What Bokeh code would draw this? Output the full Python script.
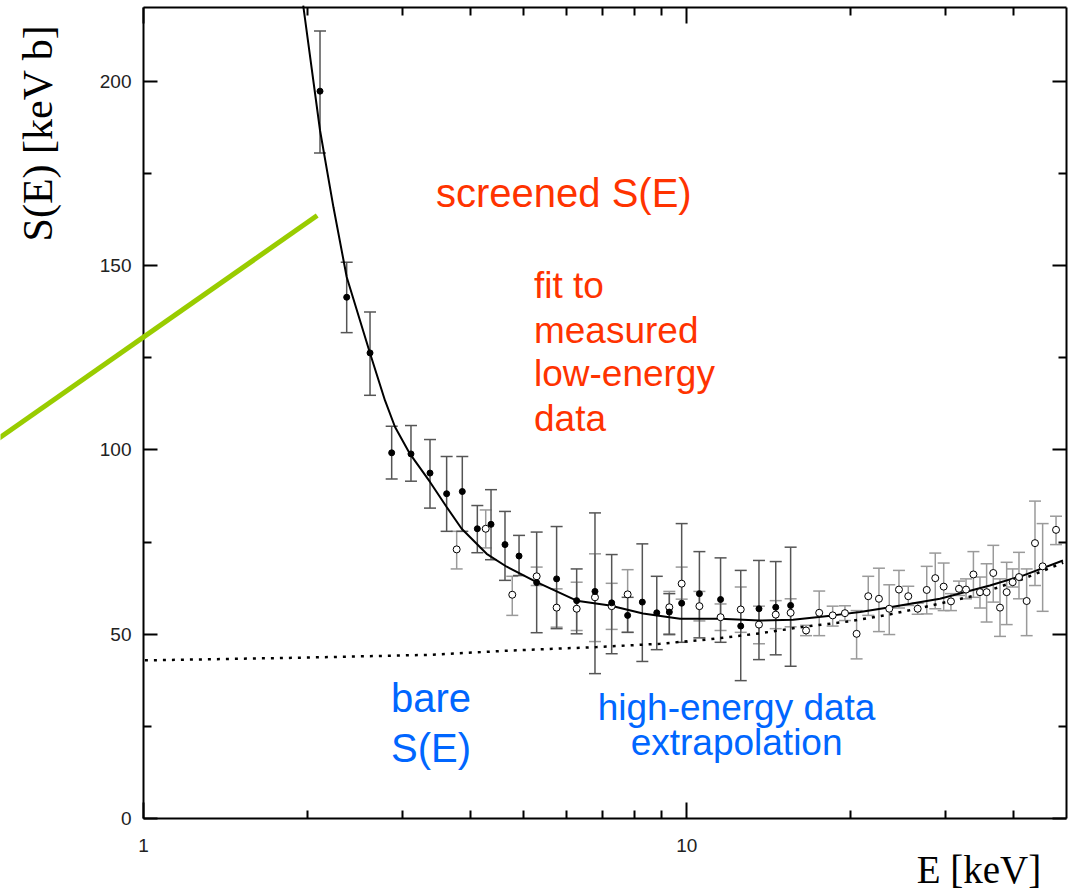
from math import pi
from bokeh.plotting import figure
from bokeh.models import (FixedTicker, LinearAxis, LogAxis, Whisker, TeeHead,
                          ColumnDataSource, Label, Arrow, PrintfTickFormatter,
                          CustomJSTickFormatter, Range1d)
from bokeh.embed import file_html
from bokeh.resources import INLINE
from bokeh.core.properties import value

# ---------------- data ----------------
# screened S(E) fit (solid line)
fit_E = [1.968, 2.113, 2.237, 2.366, 2.612, 2.783, 2.904, 3.094, 3.368, 3.614,
         3.852, 4.282, 4.662, 5.293, 6.271, 7.221, 8.306, 9.716, 11.51, 13.63,
         15.69, 18.58, 20.84, 23.66, 29.24, 36.14, 41.57, 49.26]
fit_S = [220.5, 186.7, 165.8, 146.9, 126.2, 113.4, 106.2, 98.9, 91.3, 84.5,
         78.6, 71.8, 68.3, 64.1, 59.1, 57.8, 55.6, 54.2, 54.2, 53.7,
         53.9, 55.1, 56.0, 57.3, 59.6, 63.2, 65.9, 70.0]

# bare S(E) (dotted line)
bare_E = [1.006, 1.914, 3.37, 4.79, 6.83, 8.93, 11.0, 13.6, 16.2, 20.0,
          23.7, 27.3, 33.7, 41.6, 49.3]
bare_S = [42.9, 43.6, 44.4, 45.6, 46.5, 47.4, 48.6, 50.2, 51.9, 53.5,
          55.4, 57.3, 60.4, 65.0, 69.4]

# low-energy data (filled circles)
lo_E = [2.113, 2.366, 2.612, 2.863, 3.107, 3.368, 3.614, 3.862, 4.116, 4.362,
        4.628, 4.912, 5.293, 5.760, 6.271, 6.777, 7.274, 7.783, 8.283, 8.806,
        9.287, 9.786, 10.55, 11.54, 12.57, 13.58, 14.58, 15.53]
lo_S = [197.3, 141.4, 126.3, 99.2, 98.9, 93.7, 88.1, 88.7, 78.6, 79.8,
        74.3, 71.2, 64.0, 65.0, 59.1, 61.6, 58.5, 55.1, 58.7, 55.8,
        56.0, 58.4, 61.0, 59.4, 52.2, 56.9, 57.3, 57.8]
lo_min = [180.5, 131.8, 114.8, 92.1, 91.5, 84.2, 77.9, 77.9, 72.1, 70.2,
          64.6, 65.9, 50.4, 51.5, 50.1, 39.3, 44.7, 50.5, 42.6, 45.8,
          50.0, 47.8, 49.0, 47.8, 37.4, 43.1, 44.4, 41.3]
lo_max = [213.6, 150.9, 137.4, 106.4, 106.6, 102.8, 98.2, 98.2, 84.9, 89.2,
          83.3, 76.8, 77.7, 79.2, 67.7, 82.9, 71.6, 60.0, 74.5, 65.7,
          61.0, 80.0, 72.4, 70.7, 67.3, 70.0, 69.7, 73.6]

# high-energy data (open circles)
hi_E = [3.771, 4.265, 4.773, 5.293, 5.760, 6.271, 6.777, 7.274, 7.783, 9.287,
        9.786, 10.55, 11.54, 12.57, 13.58, 14.58, 15.53, 16.58, 17.53, 18.56,
        19.55, 20.54, 21.58, 22.58, 23.59, 24.58, 25.57, 26.61, 27.65, 28.67,
        29.71, 30.64, 31.70, 32.66, 33.70, 34.65, 35.64, 36.66, 37.72, 38.80,
        39.80, 40.88, 42.23, 43.75, 45.19, 47.83]
hi_S = [73.0, 78.6, 60.7, 65.7, 57.2, 56.9, 60.0, 57.6, 60.8, 57.3,
        63.7, 57.6, 54.6, 56.7, 52.6, 55.3, 55.8, 51.0, 55.8, 55.1,
        55.7, 50.1, 60.3, 59.6, 56.9, 62.1, 60.3, 56.9, 62.0, 65.2,
        62.9, 58.9, 62.3, 62.1, 66.2, 61.4, 61.4, 66.6, 57.2, 61.4,
        64.1, 65.5, 59.0, 74.7, 68.4, 78.3]
hi_min = [67.7, 73.4, 55.1, 63.2, 51.9, 51.0, 48.0, 51.3, 50.5, 49.8,
          59.5, 53.6, 51.0, 50.5, 47.4, 51.5, 52.0, 49.6, 49.6, 52.2,
          53.7, 43.3, 55.1, 50.7, 49.9, 57.1, 57.8, 55.4, 55.5, 56.9,
          56.4, 56.4, 60.5, 59.6, 60.0, 57.1, 53.3, 58.7, 49.4, 52.6,
          62.8, 59.6, 49.6, 63.2, 56.2, 74.3]
hi_max = [77.9, 83.7, 65.7, 68.2, 62.3, 64.1, 71.8, 63.8, 67.5, 61.6,
          68.2, 61.6, 58.2, 62.8, 57.6, 59.1, 59.6, 52.4, 61.7, 57.6,
          57.7, 56.4, 65.7, 67.9, 63.4, 67.3, 63.0, 58.4, 68.4, 72.0,
          69.3, 61.0, 64.4, 65.0, 72.4, 65.5, 69.1, 74.1, 65.0, 69.5,
          67.7, 72.2, 67.7, 86.1, 80.0, 82.0]

x_bounds = (1, 50)
y_bounds = (0, 220)
x_major = [1, 10]
x_minor = [2, 3, 4, 5, 6, 7, 8, 9, 20, 30, 40]
y_major = [0, 50, 100, 150, 200]
y_minor = [25, 75, 125, 175]

# ---------------- geometry ----------------
W, H = 1069, 892
LEFT_PX, BOTTOM_PX = 143, 818          # pixel of x=1 and of y=0
DEC_PX = 923 / 1.69897                 # pixels per decade
UNIT_PX = 811 / 220.0                  # pixels per unit of S
x_rng = Range1d(10 ** (-LEFT_PX / DEC_PX), 10 ** ((W - LEFT_PX) / DEC_PX))
y_rng = Range1d(-(H - BOTTOM_PX) / UNIT_PX, BOTTOM_PX / UNIT_PX)

p = figure(width=W, height=H, x_axis_type="log", x_range=x_rng, y_range=y_rng,
           x_axis_location=None, y_axis_location=None,
           output_backend="svg", toolbar_location=None,
           min_border=0, min_border_left=0, min_border_right=0,
           min_border_top=0, min_border_bottom=0)
p.grid.visible = False
p.outline_line_color = None
p.background_fill_color = "white"
p.border_fill_color = "white"

blank = CustomJSTickFormatter(code="return ''")


def make_axis(cls, loc, bounds, major, minor, labelled, tick_major):
    ax = cls(fixed_location=loc, bounds=bounds)
    ax.ticker = FixedTicker(ticks=major, minor_ticks=minor)
    ax.axis_line_color = "black"
    ax.axis_line_width = 2
    ax.major_tick_line_color = "black"
    ax.major_tick_line_width = 2
    ax.major_tick_in = tick_major
    ax.major_tick_out = 0
    ax.minor_tick_line_color = "black"
    ax.minor_tick_line_width = 2
    ax.minor_tick_in = 8
    ax.minor_tick_out = 0
    if labelled:
        ax.formatter = PrintfTickFormatter(format="%d")
        ax.major_label_text_font = "Liberation Sans"
        ax.major_label_text_font_size = "19px"
        ax.major_label_text_color = "#222222"
    else:
        ax.formatter = blank
        ax.major_label_standoff = 0
    return ax


xb = make_axis(LogAxis, y_bounds[0], x_bounds, x_major, x_minor, True, 16)
xb.major_label_standoff = 20
p.add_layout(xb, "below")
p.add_layout(make_axis(LogAxis, y_bounds[1], x_bounds, x_major, x_minor, False, 16), "above")
yl = make_axis(LinearAxis, x_bounds[0], y_bounds, y_major, y_minor, True, 14)
yl.major_label_standoff = 12
p.add_layout(yl, "left")
p.add_layout(make_axis(LinearAxis, x_bounds[1], y_bounds, y_major, y_minor, False, 14), "right")

# curves
p.line(bare_E, bare_S, line_color="black", line_width=2.5, line_dash="3 6")
p.line(fit_E, fit_S, line_color="black", line_width=2)

# error bars
src_lo = ColumnDataSource(dict(x=lo_E, y=lo_S, lo=lo_min, hi=lo_max))
src_hi = ColumnDataSource(dict(x=hi_E, y=hi_S, lo=hi_min, hi=hi_max))

for src, col in ((src_hi, "#9a9a9a"), (src_lo, "#555555")):
    w = Whisker(source=src, base="x", lower="lo", upper="hi", dimension="height",
                line_color=col, line_width=1.5,
                upper_head=TeeHead(size=12, line_color=col, line_width=1.5),
                lower_head=TeeHead(size=12, line_color=col, line_width=1.5),
                level="underlay")
    p.add_layout(w)

p.scatter("x", "y", source=src_hi, size=7, marker="circle", fill_color="white",
          line_color="black", line_width=1)
p.scatter("x", "y", source=src_lo, size=6, marker="circle", fill_color="black",
          line_color="black")

# annotations
red = "#ff3300"
blue = "#0066ff"
p.text(x=[3.455], y=[169.8], text=["screened S(E)"], text_font=value("Liberation Sans"),
       text_font_size="40px", text_color=red, text_baseline="alphabetic",
       text_align="left")
p.text(x=[5.233] * 4, y=[144.6, 132.4, 120.7, 108.5],
       text=["fit to", "measured", "low-energy", "data"],
       text_font=value("Liberation Sans"), text_font_size="37px", text_color=red,
       text_baseline="alphabetic", text_align="left")
p.text(x=[2.855, 2.855], y=[32.6, 19.0], text=["bare", "S(E)"],
       text_font=value("Liberation Sans"), text_font_size="40px", text_color=blue,
       text_baseline="alphabetic", text_align="left")
p.text(x=[12.35, 12.35], y=[30.1, 20.6], text=["high-energy data", "extrapolation"],
       text_font=value("Liberation Sans"), text_font_size="37px", text_color=blue,
       text_baseline="alphabetic", text_align="center")

# axis titles (screen units measured from the canvas bottom-left)
p.add_layout(Label(x=37, y=H - 132.5, x_units="screen", y_units="screen",
                   text="S(E) [keV b]", angle=pi / 2, text_align="center",
                   text_baseline="alphabetic", text_font="Liberation Serif",
                   text_font_size="42px", text_color="black"))
p.add_layout(Label(x=978.5, y=H - 869, x_units="screen", y_units="screen",
                   text="E [keV]", text_align="center", text_baseline="alphabetic",
                   text_font="Liberation Serif", text_font_size="39px",
                   text_color="black"))

# green pointer line
p.add_layout(Arrow(end=None, x_start=-5, y_start=H - 440.2, x_end=316.7, y_end=H - 215,
                   start_units="screen", end_units="screen",
                   line_color="#99cc00", line_width=5))

open("out.html", "w").write(file_html(p, INLINE))
